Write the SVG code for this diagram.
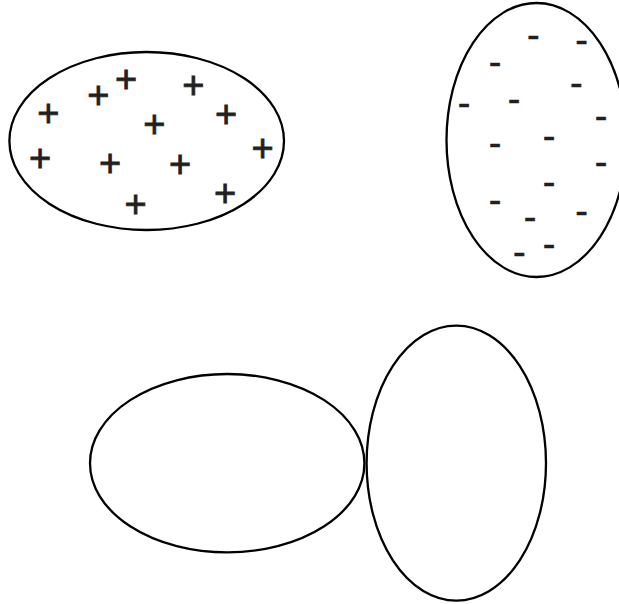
<svg xmlns="http://www.w3.org/2000/svg" width="619" height="604" viewBox="0 0 619 604">
<style>
.e{fill:none;stroke:#000;stroke-width:2.3}
.c{font-family:"Liberation Sans",Arial,sans-serif;font-size:38px;text-anchor:middle;fill:#231f20;stroke:#231f20}
.p{stroke-width:0.8}
.m{stroke-width:0.5}
</style>
<rect width="619" height="604" fill="#fff"/>
<g id="positive-body">
<ellipse class="e" cx="146.7" cy="141" rx="137.3" ry="89"/>
<g class="c p">
<text x="126" y="91.7">+</text>
<text x="98.3" y="108.4">+</text>
<text x="193.3" y="98.4">+</text>
<text x="48.3" y="125.7">+</text>
<text x="154.3" y="136.7">+</text>
<text x="226" y="127.4">+</text>
<text x="262.7" y="160.7">+</text>
<text x="40" y="170.7">+</text>
<text x="110" y="175.7">+</text>
<text x="180" y="177.4">+</text>
<text x="225" y="205.7">+</text>
<text x="135.7" y="216.7">+</text>
</g>
</g>
<g id="negative-body">
<ellipse class="e" cx="536.5" cy="140" rx="90" ry="137"/>
<g class="c m">
<text x="533.3" y="47.6">-</text>
<text x="581.7" y="52.9">-</text>
<text x="495" y="74.9">-</text>
<text x="576.3" y="95.9">-</text>
<text x="514" y="111.9">-</text>
<text x="464" y="115.9">-</text>
<text x="601" y="128.9">-</text>
<text x="549" y="148.9">-</text>
<text x="495" y="155.9">-</text>
<text x="601" y="174.9">-</text>
<text x="549" y="194.9">-</text>
<text x="495" y="212.9">-</text>
<text x="581.7" y="223.9">-</text>
<text x="530" y="229.9">-</text>
<text x="549" y="256.9">-</text>
<text x="519.3" y="264.9">-</text>
</g>
</g>
<g id="body-a">
<ellipse class="e" cx="227.2" cy="463.2" rx="137.2" ry="89.2"/>
</g>
<g id="body-b">
<ellipse class="e" cx="456.3" cy="463.2" rx="89.7" ry="137.5"/>
</g>
<g id="connectors"></g>
</svg>
